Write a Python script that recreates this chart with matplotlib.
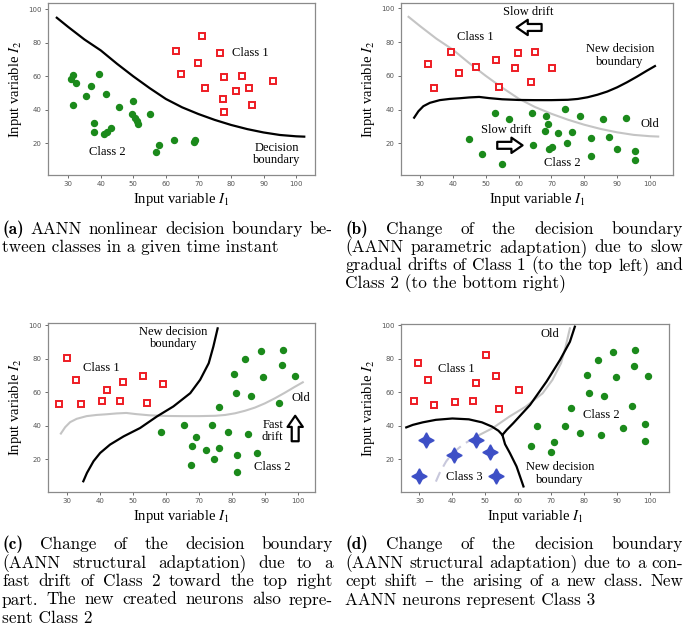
import matplotlib
matplotlib.use("Agg")
from matplotlib import pyplot as plt

plt.rcParams['mathtext.fontset'] = 'stix'

# ---- data ----
# (a) classes and boundary
a_c1_x = [63, 71, 76.5, 70, 64.5, 72, 78, 83.5, 77.5, 81.5, 85.5, 78, 86.5, 93]
a_c1_y = [75, 84, 74, 68, 61.5, 53, 59.5, 60.5, 46.5, 51, 53, 39, 43, 57.5]
a_c2_x = [31.5, 31, 32.5, 39.5, 37, 35.5, 31.5, 41.5, 45.5, 50, 49.5, 50.5, 51, 51.5,
          55, 38, 38, 41, 42, 43, 57, 58, 62.5, 68.5, 69]
a_c2_y = [61, 58.5, 56, 61.5, 54, 48, 43, 49.5, 41.5, 45, 37.5, 35, 33.5, 31.5,
          37.5, 32, 26.5, 25.5, 26.5, 29, 15, 19, 22, 21, 22]
bound_a_x = [26.5, 30, 35, 40, 45, 50, 55, 60, 65, 70, 75, 80, 85, 90, 95, 100, 102.5]
bound_a_y = [95, 89.5, 82, 75.5, 67.5, 60, 53, 46.5, 41.5, 37.5, 34, 31, 28.5, 26.5, 25, 24.2, 24]

# (b) slow drift
b_c1_x = [32.5, 34.3, 39.3, 42, 47, 53.1, 54.1, 59.9, 58.9, 65, 63.8, 70.3]
b_c1_y = [67, 53, 74.3, 61.7, 65.4, 69.4, 53.6, 73.7, 64.4, 73.9, 56.1, 64.4]
b_c2_x = [45, 49, 52.7, 54.8, 57.2, 64.2, 64.3, 68.2, 68, 69.1, 69.4, 70.2, 72.1, 74.1,
          74.6, 76.2, 78.7, 81.9, 81.9, 85.8, 87.6, 89.9, 92.6, 95.5, 95.5]
b_c2_y = [22.5, 13.8, 38.1, 7.9, 34.2, 38.1, 19, 36, 27.3, 31.2, 16.6, 17.8, 25.9, 40.3,
          20.2, 26.7, 36.2, 22.9, 12.6, 34.2, 23.5, 16.4, 35, 15.6, 9.9]
bound_b_x = [28.2, 29.5, 31, 33, 36, 39, 42, 45, 48, 51, 55, 60, 65, 70, 75, 78, 81,
             84, 87, 90, 93, 96, 99, 101.5]
bound_b_y = [35.2, 39, 42, 44, 45.6, 46.3, 46.7, 47.2, 47.5, 46.8, 46.1, 45.7, 45.6,
             45.6, 45.8, 46.3, 47.3, 48.8, 50.7, 53.2, 56.2, 59.5, 63, 65.8]

# (c) fast drift
c_c1_x = [27.7, 30.2, 32.7, 34.2, 40.8, 42.1, 46, 47.1, 53.2, 54.2, 59]
c_c1_y = [52.6, 80.4, 67.1, 52.6, 54.4, 61.3, 54.8, 65.7, 69.4, 53.4, 64.5]
c_c2_x = [58.6, 65.5, 68, 67.7, 69, 72.1, 73.9, 74.5, 76, 76.2, 78.7, 80.8, 81.3, 81.7,
          81.7, 84, 85, 85.8, 88.8, 89.5, 87.5, 94.4, 95.1, 95.5, 99.1]
c_c2_y = [35.9, 40.1, 27.6, 16.3, 33.3, 25.6, 40.1, 20, 50.8, 26.6, 35.9, 70.8, 59.7, 22.6,
          12.5, 79.6, 34.9, 57.7, 84.3, 69.2, 23.6, 53.6, 76, 85.1, 69.6]
bound_c_x = [35, 36.1, 38.1, 40.1, 43.1, 47.2, 52.2, 57.3, 62.3, 67.4, 70.4, 73, 74.4, 75.7]
bound_c_y = [6.7, 11.7, 18.7, 23.6, 28.6, 33.5, 38.5, 45.4, 51.4, 59.3, 67.3, 77.2, 87.1, 98]

# (d) concept shift
d_c1_x = [28.2, 29.5, 32.7, 34.3, 40.9, 46.2, 47.1, 50.1, 53.3, 54.2, 60.2]
d_c1_y = [54.6, 77.4, 67.1, 52.6, 54.2, 54.6, 65.7, 82.3, 69.4, 50.2, 61.3]
d_c2_x = [63.8, 65.6, 69.9, 70.8, 74.1, 76, 78.8, 81, 81.4, 84.1, 85.2, 86, 88.9, 89.7,
          91.7, 94.7, 95.2, 95.6, 98.6, 98.6, 99.3]
d_c2_y = [27.8, 40.1, 24.2, 30.2, 40.1, 50.8, 35.9, 70.4, 59.5, 79, 34.7, 57.7, 84.1, 68.8,
          38.5, 52, 75.8, 84.9, 40.9, 30.6, 69.4]
d_c3_x = [31.9, 29.9, 40.6, 47.1, 51.5, 53.2]
d_c3_y = [31.2, 10.3, 22.4, 31.5, 24.6, 10.3]
arc_d_x = [26, 28, 31, 35, 40, 45, 49, 52, 54, 55.2]
arc_d_y = [39, 40.5, 42, 43.5, 44.3, 43.8, 42, 39.5, 37, 34.5]
up_d_x = [55.2, 56.5, 58.5, 63.6, 68.6, 72.7, 75.7, 77.2]
up_d_y = [34.5, 37.5, 41.5, 52.4, 66.3, 79.2, 90, 99]
low_d_x = [55.2, 56, 57.5, 59.5, 61.6]
low_d_y = [34.5, 29, 23.6, 15.7, 3.8]

xticks = [30, 40, 50, 60, 70, 80, 90, 100]
yticks = [20, 40, 60, 80, 100]

caps_a = ["(a) AANN nonlinear decision boundary be-",
          "tween classes in a given time instant"]
caps_b = ["(b) Change of the decision boundary",
          "(AANN parametric adaptation) due to slow",
          "gradual drifts of Class 1 (to the top left) and",
          "Class 2 (to the bottom right)"]
caps_c = ["(c) Change of the decision boundary",
          "(AANN structural adaptation) due to a",
          "fast drift of Class 2 toward the top right",
          "part. The new created neurons also repre-",
          "sent Class 2"]
caps_d = ["(d) Change of the decision boundary",
          "(AANN structural adaptation) due to a con-",
          "cept shift \u2013 the arising of a new class. New",
          "AANN neurons represent Class 3"]

W, H = 685, 630
fig = plt.figure(figsize=(W / 100, H / 100), dpi=100)

RED = '#ee1c24'
GREEN = '#1b8a1b'
BLUE = '#3d4fc6'
SERIF = 'Liberation Serif'


def make_ax(l, r, t, b, xlim, ylim):
    ax = fig.add_axes([l / W, 1 - b / H, (r - l) / W, (b - t) / H])
    ax.set_xlim(*xlim)
    ax.set_ylim(*ylim)
    ax.set_xticks(xticks)
    ax.set_yticks(yticks)
    ax.tick_params(labelsize=5, colors='#555555', length=2.5, width=0.6, pad=2)
    for s in ax.spines.values():
        s.set_color('#8a8a8a')
        s.set_linewidth(0.9)
    ax.set_xlabel("Input variable $I_1$", family=SERIF, fontsize=10.5, labelpad=3)
    ax.set_ylabel("Input variable $I_2$", family=SERIF, fontsize=10.5, labelpad=3)
    return ax


def red(ax, x, y):
    ax.plot(x, y, 's', ms=4.3, mfc='white', mec=RED, mew=1.4, ls='none')


def green(ax, x, y):
    ax.plot(x, y, 'o', ms=4.3, color=GREEN, ls='none')


def txt(ax, x, y, s, **kw):
    ax.text(x, y, s, family=SERIF, fontsize=9, ha='center', va='center',
            linespacing=1.05, **kw)


def arrow(ax, tail, head):
    ax.annotate('', xy=head, xytext=tail,
                arrowprops=dict(arrowstyle='simple,head_width=1.1,head_length=0.8,tail_width=0.5',
                                fc='white', ec='black', lw=1.6, mutation_scale=10,
                                shrinkA=0, shrinkB=0))


# (a)
ax = make_ax(48, 315, 3, 175, (23.8, 105.8), (1.1, 103.8))
ax.plot(bound_a_x, bound_a_y, color='black', lw=1.6)
red(ax, a_c1_x, a_c1_y)
green(ax, a_c2_x, a_c2_y)
txt(ax, 86, 74, "Class 1")
txt(ax, 42, 15, "Class 2")
txt(ax, 94, 13.5, "Decision\nboundary")

# (b)
ax = make_ax(401, 673, 3, 175, (24.2, 107), (1.2, 103.2))
ax.plot(bound_a_x, bound_a_y, color='#c4c4c4', lw=1.5)
ax.plot(bound_b_x, bound_b_y, color='black', lw=1.6)
red(ax, b_c1_x, b_c1_y)
green(ax, b_c2_x, b_c2_y)
txt(ax, 63, 98, "Slow drift")
arrow(ax, (67, 88.7), (59.4, 88.7))
txt(ax, 46.7, 83.2, "Class 1")
txt(ax, 90.9, 72, "New decision\nboundary")
txt(ax, 100, 31.4, "Old")
txt(ax, 56.2, 27.9, "Slow drift")
arrow(ax, (53.5, 18.8), (61.2, 18.8))
txt(ax, 73.4, 8.5, "Class 2")

# (c)
ax = make_ax(48, 315, 323, 492, (24.3, 105.2), (0.3, 101.2))
ax.plot(bound_b_x, bound_b_y, color='#c4c4c4', lw=1.5)
ax.plot(bound_c_x, bound_c_y, color='black', lw=1.6)
red(ax, c_c1_x, c_c1_y)
green(ax, c_c2_x, c_c2_y)
txt(ax, 62.3, 92.3, "New decision\nboundary")
txt(ax, 40.6, 74.2, "Class 1")
txt(ax, 101, 56.3, "Old")
txt(ax, 92.4, 36.7, "Fast\ndrift")
arrow(ax, (99.2, 30.6), (99.2, 45.8))
txt(ax, 92.4, 15.3, "Class 2")

# (d)
ax = make_ax(401, 669, 324, 492, (24.4, 105.8), (0.5, 100.6))
low = [i for i, v in enumerate(bound_c_y) if v <= 34]
ax.plot([bound_c_x[i] for i in low], [bound_c_y[i] for i in low],
        color='#c8c8dc', lw=1.5, ls=(0, (5, 3)))
ax.plot(bound_c_x[len(low) - 1:], bound_c_y[len(low) - 1:], color='#c4c4c4', lw=1.5)
ax.plot(arc_d_x, arc_d_y, color='black', lw=1.6)
ax.plot(up_d_x, up_d_y, color='black', lw=1.6)
ax.plot(low_d_x, low_d_y, color='black', lw=1.6)
red(ax, d_c1_x, d_c1_y)
green(ax, d_c2_x, d_c2_y)
ax.plot(d_c3_x, d_c3_y, marker=(4, 1, 0), ms=11, color=BLUE, ls='none')
txt(ax, 69.7, 94.6, "Old")
txt(ax, 41.3, 73.8, "Class 1")
txt(ax, 85.3, 46.4, "Class 2")
txt(ax, 43.6, 9.7, "Class 3")
txt(ax, 72.7, 11.5, "New decision\nboundary")


# captions, justified like the paper layout
def caption(lines, x0, x1, baselines, size=12.4):
    r = fig.canvas.get_renderer()
    fam = ['cmr10', 'DejaVu Serif']
    for k, (line, yb) in enumerate(zip(lines, baselines)):
        y = 1 - yb / H
        if k == len(lines) - 1:
            fig.text(x0 / W, y, line, family=fam, size=size, va='baseline')
            continue
        words = line.split(' ')
        objs = []
        for i, w in enumerate(words):
            f = ['cmb10'] + fam if (k == 0 and i == 0) else fam
            objs.append(fig.text(0, y, w, family=f, size=size, va='baseline'))
        widths = [t.get_window_extent(r).width for t in objs]
        gap = max((x1 - x0 - sum(widths)) / (len(words) - 1), 2.5)
        x = x0
        for t, w in zip(objs, widths):
            t.set_x(x / W)
            x += w + gap


caption(caps_a, 2, 333, [234, 252])
caption(caps_b, 345, 683, [234, 252, 270, 288])
caption(caps_c, 2, 333, [549, 567.5, 586, 604.5, 623])
caption(caps_d, 345, 683, [549, 567.5, 586, 604.5])

fig.savefig("out.png", dpi=100)
